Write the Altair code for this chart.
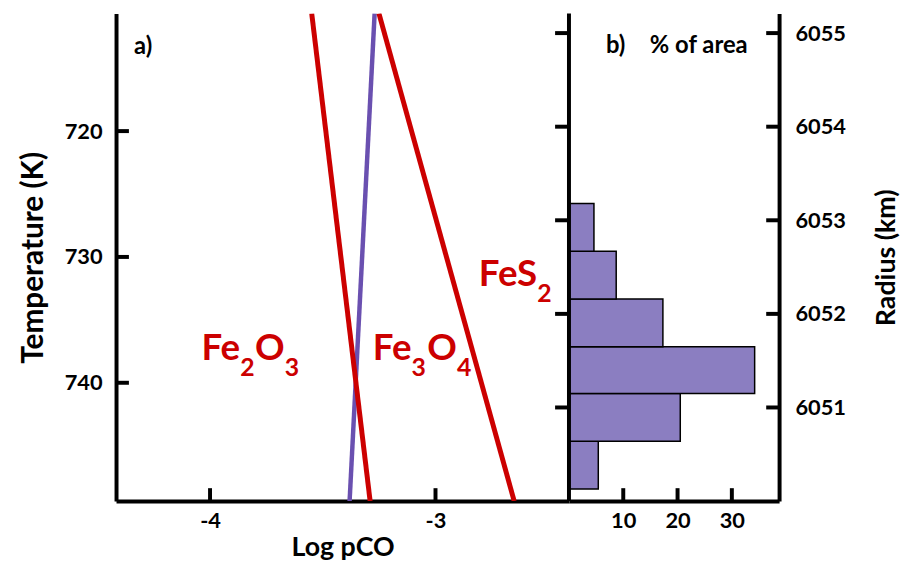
import altair as alt
import pandas as pd

# ---------------- data ----------------
# phase boundaries and profile: Log pCO at top / bottom of the temperature range
line_id = ["Fe2O3-Fe3O4", "Fe2O3-Fe3O4", "Fe3O4-FeS2", "Fe3O4-FeS2"]
line_logpco = [-3.549, -3.290, -3.251, -2.651]
line_temp = [710.65, 749.4, 710.65, 749.4]

profile_logpco = [-3.270, -3.381]
profile_temp = [710.65, 749.4]

# histogram of % of area vs radius
bin_lo = [6050.13, 6050.64, 6051.15, 6051.65, 6052.16, 6052.67]
bin_hi = [6050.64, 6051.15, 6051.65, 6052.16, 6052.67, 6053.18]
pct_area = [5.4, 20.5, 34.2, 17.3, 8.7, 4.6]

temp_ticks = [720, 730, 740]
logpco_ticks = [-4, -3]
radius_ticks = [6051, 6052, 6053, 6054, 6055]
pct_ticks = [10, 20, 30]

T_DOMAIN = [710.65, 749.4]
X_DOMAIN = [-4.417, -2.408]
R_DOMAIN = [6050.0, 6055.21]
P_DOMAIN = [0, 38.7]

# species labels (anchor in data units) and their pieces
species = ["Fe2O3", "Fe3O4", "FeS2"]
species_x = [-4.038, -3.278, -2.808]
species_t = [738.2, 738.2, 732.3]
species_parts = [
    [("Fe", 0, False), ("2", 39, True), ("O", 54, False), ("3", 84, True)],
    [("Fe", 0, False), ("3", 39, True), ("O", 55, False), ("4", 85, True)],
    [("FeS", 0, False), ("2", 59, True)],
]

FONT = "Lato"
RED = "#CC0000"
PURPLE = "#6A50B0"
BARFILL = "#8B7EC1"
W_LEFT, W_RIGHT, H = 457, 212, 492
LABEL_EXPR = "'' + datum.value"

xs = alt.Scale(domain=X_DOMAIN, nice=False, zero=False)
ts = alt.Scale(domain=T_DOMAIN, reverse=True, nice=False, zero=False)
rs = alt.Scale(domain=R_DOMAIN, nice=False, zero=False)
ps = alt.Scale(domain=P_DOMAIN, nice=False, zero=False)

# ---------------- left panel ----------------
df_lines = pd.DataFrame({"id": line_id, "logpco": line_logpco, "temp": line_temp})
df_prof = pd.DataFrame({"logpco": profile_logpco, "temp": profile_temp})

profile = alt.Chart(df_prof).mark_line(
    color=PURPLE, strokeWidth=4.5, strokeCap="butt", strokeJoin="round", clip=True).encode(
    x=alt.X("logpco:Q", scale=xs,
            axis=alt.Axis(title="Log pCO", values=logpco_ticks, labelExpr=LABEL_EXPR,
                          labelPadding=10, titlePadding=3)),
    y=alt.Y("temp:Q", scale=ts,
            axis=alt.Axis(title="Temperature (K)", values=temp_ticks, labelExpr=LABEL_EXPR,
                          labelPadding=14, titlePadding=16, titleFontSize=30)),
)
bounds = alt.Chart(df_lines).mark_line(
    color=RED, strokeWidth=5, strokeCap="butt", strokeJoin="round", clip=True).encode(
    x=alt.X("logpco:Q", scale=xs),
    y=alt.Y("temp:Q", scale=ts),
    detail="id:N",
)

ytick = alt.Chart(pd.DataFrame({"t": temp_ticks})).mark_rule(
    color="black", strokeWidth=4, x2Offset=13).encode(
    x=alt.datum(X_DOMAIN[0], scale=xs), x2=alt.datum(X_DOMAIN[0]), y=alt.Y("t:Q", scale=ts))
xtick = alt.Chart(pd.DataFrame({"v": logpco_ticks})).mark_rule(
    color="black", strokeWidth=4, y2Offset=-13).encode(
    x=alt.X("v:Q", scale=xs), y=alt.datum(T_DOMAIN[1], scale=ts), y2=alt.datum(T_DOMAIN[1]))

label_layers = []
for name, lx, lt, parts in zip(species, species_x, species_t, species_parts):
    for txt, dx, sub in parts:
        label_layers.append(
            alt.Chart(pd.DataFrame({"s": [txt], "x": [lx], "t": [lt]})).mark_text(
                align="left", baseline="alphabetic", font=FONT, fontWeight="bold",
                fontSize=25 if sub else 37, color=RED, dx=dx, dy=16 if sub else 0,
            ).encode(x=alt.X("x:Q", scale=xs), y=alt.Y("t:Q", scale=ts), text="s:N")
        )

panel_a = alt.Chart(pd.DataFrame({"s": ["a)"], "x": [-4.337], "t": [713.9]})).mark_text(
    align="left", baseline="alphabetic", font=FONT, fontWeight="bold", fontSize=24, color="black"
).encode(x=alt.X("x:Q", scale=xs), y=alt.Y("t:Q", scale=ts), text="s:N")

left = alt.layer(profile, bounds, ytick, xtick, panel_a, *label_layers).properties(
    width=W_LEFT, height=H)

# ---------------- right panel ----------------
df_hist = pd.DataFrame({"lo": bin_lo, "hi": bin_hi, "pct": pct_area})
bars = alt.Chart(df_hist).mark_bar(fill=BARFILL, stroke="black", strokeWidth=1.5).encode(
    x=alt.X("pct:Q", scale=ps, axis=alt.Axis(title=None, values=pct_ticks, labelExpr=LABEL_EXPR,
                                             labelPadding=10)),
    x2=alt.datum(0),
    y=alt.Y("lo:Q", scale=rs,
            axis=alt.Axis(orient="right", title="Radius (km)", values=radius_ticks,
                          labelExpr=LABEL_EXPR, labelPadding=16, titlePadding=28,
                          titleAngle=270, titleBaseline="top")),
    y2="hi:Q",
)
hist_left_line = alt.Chart(pd.DataFrame({"a": [R_DOMAIN[0]], "b": [R_DOMAIN[1]]})).mark_rule(
    color="black", strokeWidth=4).encode(
    x=alt.datum(0, scale=ps), y=alt.Y("a:Q", scale=rs), y2="b:Q")
rtick_out = alt.Chart(pd.DataFrame({"r": radius_ticks})).mark_rule(
    color="black", strokeWidth=4, x2Offset=-14).encode(
    x=alt.datum(0, scale=ps), x2=alt.datum(0), y=alt.Y("r:Q", scale=rs))
rtick_in = alt.Chart(pd.DataFrame({"r": radius_ticks})).mark_rule(
    color="black", strokeWidth=4, x2Offset=-13).encode(
    x=alt.datum(P_DOMAIN[1], scale=ps), x2=alt.datum(P_DOMAIN[1]), y=alt.Y("r:Q", scale=rs))
ptick = alt.Chart(pd.DataFrame({"v": pct_ticks})).mark_rule(
    color="black", strokeWidth=4, y2Offset=-13).encode(
    x=alt.X("v:Q", scale=ps), y=alt.datum(R_DOMAIN[0], scale=rs), y2=alt.datum(R_DOMAIN[0]))
panel_b = alt.Chart(pd.DataFrame({"s": ["b)", "% of area"], "x": [6.8, 14.9], "r": [6054.79, 6054.79]})).mark_text(
    align="left", baseline="alphabetic", font=FONT, fontWeight="bold", fontSize=24, color="black"
).encode(x=alt.X("x:Q", scale=ps), y=alt.Y("r:Q", scale=rs), text="s:N")

right = alt.layer(bars, hist_left_line, rtick_out, rtick_in, ptick, panel_b).properties(
    width=W_RIGHT, height=H)

chart = alt.hconcat(left, right, spacing=0, bounds="flush").properties(
    padding={"left": 10, "top": 1, "right": 0, "bottom": 0}
).configure_view(stroke=None).configure_axis(
    labelFont=FONT, labelFontWeight="bold", labelFontSize=22, labelColor="black",
    titleFont=FONT, titleFontWeight="bold", titleFontSize=27, titleColor="black",
    domainColor="black", domainWidth=4, domainCap="butt",
    ticks=False, tickSize=0, grid=False, labelFlush=False,
)

chart.save("out.html", embed_options={"renderer": "svg", "actions": False})
